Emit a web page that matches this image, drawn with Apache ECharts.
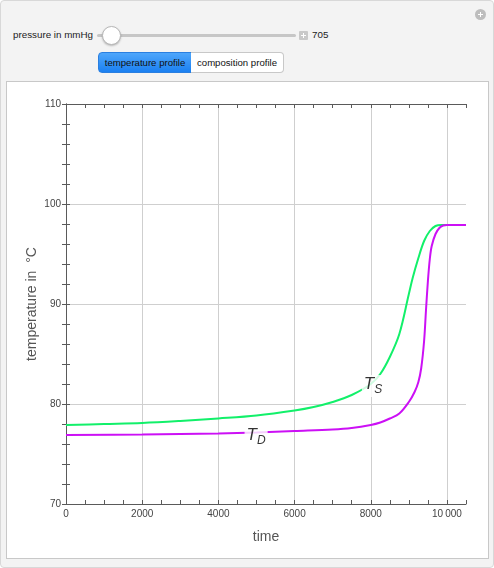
<!DOCTYPE html>
<html>
<head>
<meta charset="utf-8">
<script src="https://cdn.jsdelivr.net/npm/echarts@6/dist/echarts.min.js"></script>
<style>
  html, body { margin:0; padding:0; background:#fff; }
  body { width:494px; height:568px; position:relative; overflow:hidden; font-family:"Liberation Sans", Arial, sans-serif; }
  #panel { position:absolute; left:0; top:0; width:492px; height:566px; background:#f3f3f3; border:1px solid #d8d8d8; border-radius:4px; }
  #plotbox { position:absolute; left:6px; top:81px; width:481px; height:476px; background:#fff; border:1px solid #c8c8c8; }
  #chart { position:absolute; left:0; top:0; width:494px; height:568px; }
  .lbl { position:absolute; font-size:9.8px; color:#222; white-space:nowrap; }
  #track { position:absolute; left:97px; top:34px; width:199px; height:3px; background:#c6c6c6; border-radius:2px; }
  #knob { position:absolute; left:102px; top:26px; width:17px; height:17px; border-radius:50%; background:#fff; border:1px solid #b8b8b8; box-shadow:0 1px 2px rgba(0,0,0,0.25); }
  #plusbox { position:absolute; left:299px; top:31px; width:9px; height:9px; background:#c9c9c9; border-radius:1px; }
  #plusbox:before { content:""; position:absolute; left:2px; top:4px; width:5px; height:1px; background:#fff; }
  #plusbox:after { content:""; position:absolute; left:4px; top:2px; width:1px; height:5px; background:#fff; }
  #btns { position:absolute; left:98px; top:52px; height:21px; }
  .btn { position:absolute; top:0; height:19px; line-height:19px; font-size:9.6px; text-align:center; color:#111; }
  #b1 { left:0; width:92px; background:linear-gradient(#4ea6fb,#1b80f1); border:1px solid #2a7fe0; border-radius:4px 0 0 4px; }
  #b2 { left:93px; width:92px; background:#fff; border:1px solid #c8c8c8; border-left:none; border-radius:0 4px 4px 0; }
  #corner { position:absolute; left:475px; top:9px; width:11px; height:11px; border-radius:50%; background:#bdbdbd; }
  #corner:before { content:""; position:absolute; left:3px; top:5px; width:5px; height:1px; background:#fff; }
  #corner:after { content:""; position:absolute; left:5px; top:3px; width:1px; height:5px; background:#fff; }
</style>
</head>
<body>
<div id="panel"></div>
<div id="corner"></div>
<div class="lbl" style="left:13px; top:29px;">pressure in mmHg</div>
<div id="track"></div>
<div id="knob"></div>
<div id="plusbox"></div>
<div class="lbl" style="left:312px; top:29px;">705</div>
<div id="btns"><div class="btn" id="b1">temperature profile</div><div class="btn" id="b2">composition profile</div></div>
<div id="plotbox"></div>
<div id="chart"></div>
<script>
// ---- data ----
var timeS = [0, 1000, 2000, 3000, 4000, 5000, 6000, 6500, 7000, 7500, 8000, 8250, 8500, 8750, 9000, 9100, 9250, 9400, 9550, 9700, 9850, 10000, 10500];
var tempS = [77.9, 78.0, 78.1, 78.3, 78.55, 78.85, 79.35, 79.7, 80.2, 80.9, 82.0, 83.0, 84.7, 87.0, 91.0, 92.6, 94.6, 96.3, 97.3, 97.8, 97.9, 97.9, 97.9];
var timeD = [0, 2000, 4000, 5000, 6000, 7000, 7500, 8000, 8250, 8500, 8750, 9000, 9150, 9250, 9325, 9400, 9450, 9500, 9550, 9600, 9700, 9800, 9900, 10000, 10500];
var tempD = [76.9, 76.95, 77.05, 77.15, 77.3, 77.45, 77.6, 77.9, 78.15, 78.55, 79.05, 80.2, 81.2, 82.2, 83.6, 86.3, 89.4, 92.3, 94.5, 95.8, 97.0, 97.6, 97.85, 97.9, 97.9];
var labelTimes = [8060, 4990];
var labelTemps = [81.8, 76.7];
var labelMain = ['T', 'T'];
var labelSub = ['S', 'D'];
var xTickLabelStep = 2000;
var yTickLabelStep = 10;
var yAxisTitle = 'temperature in  \u00B0C';
var xAxisTitle = 'time';

function zip(a, b) { return a.map(function (v, i) { return [v, b[i]]; }); }

var axisColor = '#5a5a5a';
var gridColor = '#cfcfcf';
var tr = 'rgba(0,0,0,0)';
var fontFam = '"Liberation Sans", Arial, sans-serif';

var chart = echarts.init(document.getElementById('chart'), null, { renderer: 'canvas' });
chart.setOption({
  animation: false,
  backgroundColor: 'transparent',
  grid: { left: 66, top: 104, width: 400, height: 400, containLabel: false },
  graphic: [{
    type: 'text', x: 32, y: 304, rotation: Math.PI / 2,
    style: { text: yAxisTitle, fill: '#555', fontSize: 14, fontFamily: fontFam, align: 'center', verticalAlign: 'middle' }
  }],
  xAxis: [{
    type: 'value', position: 'bottom', min: 0, max: 10500, interval: 500,
    axisLine: { show: true, lineStyle: { color: axisColor, width: 1 } },
    axisTick: { show: true, inside: true, length: 4, lineStyle: { color: axisColor } },
    splitLine: { show: true, lineStyle: { color: [gridColor, tr, tr, tr], width: 1 } },
    axisLabel: { show: true, color: '#444', fontSize: 10, fontFamily: fontFam, margin: 5,
      formatter: function (v) { if (v % xTickLabelStep !== 0) return ''; return v >= 10000 ? String(v).replace(/(\d+)(\d{3})$/, '$1\u2009$2') : String(v); } },
    name: xAxisTitle, nameLocation: 'middle', nameGap: 26,
    nameTextStyle: { color: '#555', fontSize: 14, fontFamily: fontFam }
  }, {
    type: 'value', position: 'top', min: 0, max: 10500, interval: 500,
    axisLine: { show: true, lineStyle: { color: axisColor, width: 1 } },
    axisTick: { show: true, inside: true, length: 4, lineStyle: { color: axisColor } },
    splitLine: { show: false }, axisLabel: { show: false }
  }],
  yAxis: [{
    type: 'value', position: 'left', min: 70, max: 110, interval: 2,
    axisLine: { show: true, lineStyle: { color: axisColor, width: 1 } },
    axisTick: { show: true, inside: true, length: 4, lineStyle: { color: axisColor } },
    splitLine: { show: true, lineStyle: { color: [gridColor, tr, tr, tr, tr], width: 1 } },
    axisLabel: { show: true, color: '#444', fontSize: 10, fontFamily: fontFam, margin: 5,
      formatter: function (v) { return v % yTickLabelStep === 0 ? String(v) : ''; } }
  }, {
    type: 'value', position: 'right', min: 70, max: 110, interval: 2,
    axisLine: { show: true, lineStyle: { color: axisColor, width: 1 } },
    axisTick: { show: true, inside: true, length: 4, lineStyle: { color: axisColor } },
    splitLine: { show: false }, axisLabel: { show: false }
  }],
  series: [{
    type: 'line', name: 'TS', xAxisIndex: 0, yAxisIndex: 0,
    data: zip(timeS, tempS), showSymbol: false, symbol: 'none',
    smooth: 0.35,
    lineStyle: { color: '#12f06a', width: 2 }, z: 3
  }, {
    type: 'line', name: 'TD', xAxisIndex: 0, yAxisIndex: 0,
    data: zip(timeD, tempD), showSymbol: false, symbol: 'none',
    smooth: 0.35,
    lineStyle: { color: '#cc10f5', width: 2 }, z: 3
  }, {
    type: 'scatter', xAxisIndex: 0, yAxisIndex: 0, symbolSize: 0, z: 5,
    data: labelTimes.map(function (t, i) { return { value: [t, labelTemps[i]] }; }),
    label: {
      show: true, position: 'inside',
      backgroundColor: '#fff', padding: [1, 2, 1, 2],
      formatter: function (p) { return '{t|' + labelMain[p.dataIndex] + '}{s|' + labelSub[p.dataIndex] + '}'; },
      rich: {
        t: { fontStyle: 'italic', fontSize: 17, color: '#000', fontFamily: fontFam, lineHeight: 20, verticalAlign: 'top' },
        s: { fontStyle: 'italic', fontSize: 12, color: '#000', fontFamily: fontFam, lineHeight: 20, verticalAlign: 'bottom', padding: [8, 0, 0, 0] }
      }
    },
    emphasis: { disabled: true }
  }]
});
</script>
</body>
</html>
